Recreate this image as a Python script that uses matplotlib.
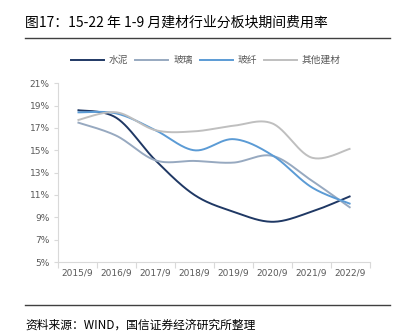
import numpy as np
import matplotlib
matplotlib.use("Agg")
import matplotlib.pyplot as plt
from matplotlib.lines import Line2D

plt.rcParams['font.family'] = ['Noto Sans CJK SC', 'DejaVu Sans']

years = ["2015/9", "2016/9", "2017/9", "2018/9", "2019/9", "2020/9", "2021/9", "2022/9"]
cement = [18.6, 17.9, 14.1, 11.0, 9.5, 8.6, 9.5, 10.9]
glass = [17.5, 16.3, 14.1, 14.05, 13.9, 14.5, 12.3, 9.85]
fiber = [18.4, 18.3, 16.8, 15.0, 16.0, 14.55, 11.7, 10.2]
other = [17.7, 18.4, 16.8, 16.7, 17.2, 17.4, 14.35, 15.15]
series_names = ["水泥", "玻璃", "玻纤", "其他建材"]
yticks = [5, 7, 9, 11, 13, 15, 17, 19, 21]

colors = ["#1F3864", "#97A9C0", "#5B9BD5", "#BFBFBF"]


def smooth(xs, ys, n=30):
    xs = np.asarray(xs, float)
    ys = np.asarray(ys, float)
    P = np.column_stack([xs, ys])
    P = np.vstack([P[0], P, P[-1]])
    out = []
    for i in range(1, len(P) - 2):
        p0, p1, p2, p3 = P[i - 1], P[i], P[i + 1], P[i + 2]
        c1 = p1 + (p2 - p0) / 6.0
        c2 = p2 - (p3 - p1) / 6.0
        t = np.linspace(0, 1, n)[:, None]
        b = ((1 - t) ** 3) * p1 + 3 * ((1 - t) ** 2) * t * c1 + 3 * (1 - t) * t ** 2 * c2 + t ** 3 * p2
        out.append(b if i == 1 else b[1:])
    B = np.vstack(out)
    return B[:, 0], B[:, 1]


fig = plt.figure(figsize=(3.95, 3.33), dpi=100)
ax = fig.add_axes([58 / 395, 1 - 262 / 333, 312 / 395, (262 - 83.3) / 333])

x = np.arange(len(years))
handles = []
for name, data, c in zip(series_names, [cement, glass, fiber, other], colors):
    sx, sy = smooth(x, data)
    ax.plot(sx, sy, color=c, lw=1.4, solid_capstyle='butt')
    handles.append(Line2D([0], [0], color=c, lw=1.4))

ax.set_xlim(-0.5, len(years) - 0.5)
ax.set_ylim(5, 21)
ax.set_yticks(yticks)
ax.set_yticklabels([f"{v}%" for v in yticks], fontsize=6.5, color="#595959", family=['DejaVu Sans'])
ax.set_xticks(x)
ax.set_xticklabels(years, fontsize=6.5, color="#595959", family=['DejaVu Sans'])
ax.set_xticks(np.arange(-0.5, len(years) + 0.5, 1), minor=True)
ax.tick_params(axis='x', which='major', length=0, pad=5)
ax.tick_params(axis='x', which='minor', length=4, color="#D9D9D9", width=0.8)
ax.tick_params(axis='y', length=3, color="#D9D9D9", width=0.8, pad=3)
for s in ['top', 'right']:
    ax.spines[s].set_visible(False)
for s in ['left', 'bottom']:
    ax.spines[s].set_color("#D9D9D9")
    ax.spines[s].set_linewidth(0.8)

fig.legend(handles, series_names, loc='center', bbox_to_anchor=(206 / 395, 1 - 60 / 333),
           ncol=4, frameon=False, fontsize=7, handlelength=3.4, handletextpad=0.5,
           columnspacing=0.7, labelcolor="#595959")

fig.text(25 / 395, 1 - 23 / 333, "图17：15-22 年 1-9 月建材行业分板块期间费用率", fontsize=10,
         ha='left', va='center', color="#000000")
fig.add_artist(Line2D([25 / 395, 390 / 395], [1 - 38 / 333, 1 - 38 / 333], color="#404040", lw=1.0))
fig.add_artist(Line2D([25 / 395, 390 / 395], [1 - 305 / 333, 1 - 305 / 333], color="#404040", lw=1.0))
fig.text(25 / 395, 1 - 319 / 333, "资料来源：WIND，国信证券经济研究所整理", fontsize=8.5,
         ha='left', va='top', color="#000000")

fig.savefig("out.png", dpi=100)
